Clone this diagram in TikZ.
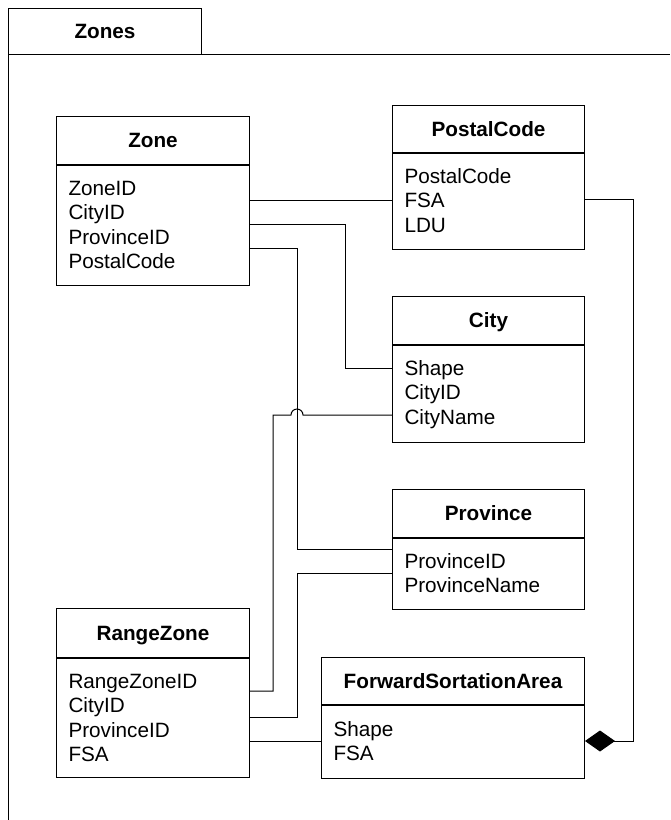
\documentclass[tikz,border=0pt]{standalone}
\usepackage{fontspec}
\setmainfont{Liberation Sans}
\usetikzlibrary{arrows.meta}
\begin{document}
\fontsize{20.7}{24}\selectfont
\begin{tikzpicture}[x=1pt,y=-1pt,
  line width=1pt,
  hdr/.style={draw, anchor=north west, inner sep=0pt, font=\bfseries,
    text height=14.7pt, text depth=0pt},
  ebody/.style={draw, anchor=north west, inner sep=0pt},
  row/.style={anchor=west, inner sep=0pt, text height=14.7pt, text depth=0pt},
  conn/.style={draw, line width=1pt},
]
\useasboundingbox (0,0) rectangle (670,820);

% package frame with its tab
\draw (8,820) -- (8,54) -- (670,54);
\node[hdr, minimum width=193pt, minimum height=46pt] (tab) at (8,8) {Zones};

% Zone
\node[hdr, minimum width=193pt, minimum height=48pt] (zoneH) at (56,116) {Zone};
\node[ebody, minimum width=193pt, minimum height=120pt] (zoneB) at (zoneH.south west) {};
\node[row] (zone1) at (68,188) {ZoneID};
\node[row] (zone2) at (68,212.5) {CityID};
\node[row] (zone3) at (68,237) {ProvinceID};
\node[row] (zone4) at (68,261.5) {PostalCode};

% PostalCode
\node[hdr, minimum width=192pt, minimum height=47pt] (pcH) at (392,105) {PostalCode};
\node[ebody, minimum width=192pt, minimum height=96pt] (pcB) at (pcH.south west) {};
\node[row] (pc1) at (404,176) {PostalCode};
\node[row] (pc2) at (404,200.5) {FSA};
\node[row] (pc3) at (404,225) {LDU};

% City
\node[hdr, minimum width=192pt, minimum height=48pt] (cityH) at (392,296) {City};
\node[ebody, minimum width=192pt, minimum height=97pt] (cityB) at (cityH.south west) {};
\node[row] (city1) at (404,368) {Shape};
\node[row] (city2) at (404,392.5) {CityID};
\node[row] (city3) at (404,417) {CityName};

% Province
\node[hdr, minimum width=192pt, minimum height=48pt] (provH) at (392,489) {Province};
\node[ebody, minimum width=192pt, minimum height=71pt] (provB) at (provH.south west) {};
\node[row] (prov1) at (404,561) {ProvinceID};
\node[row] (prov2) at (404,585.5) {ProvinceName};

% RangeZone
\node[hdr, minimum width=193pt, minimum height=49pt] (rzH) at (56,608) {RangeZone};
\node[ebody, minimum width=193pt, minimum height=119pt] (rzB) at (rzH.south west) {};
\node[row] (rz1) at (68,681) {RangeZoneID};
\node[row] (rz2) at (68,705.5) {CityID};
\node[row] (rz3) at (68,730) {ProvinceID};
\node[row] (rz4) at (68,754.5) {FSA};

% ForwardSortationArea
\node[hdr, minimum width=263pt, minimum height=47pt] (fsaH) at (321,657) {ForwardSortationArea};
\node[ebody, minimum width=263pt, minimum height=73pt] (fsaB) at (fsaH.south west) {};
\node[row] (fsa1) at (333,729) {Shape};
\node[row] (fsa2) at (333,753.5) {FSA};

% relationships
\draw[conn] (zoneB.east |- 0,200) -- (pcB.west |- 0,200);
\draw[conn] (zoneB.east |- 0,224) -- (345,224) -- (345,368) -- (cityB.west |- 0,368);
\draw[conn] (zoneB.east |- 0,248) -- (297,248) -- (297,549) -- (provB.west |- 0,549);
\draw[conn] (rzB.east |- 0,691) -- (273,691) -- (273,415) -- (291,415)
  arc[start angle=180, end angle=0, radius=6pt] -- (cityB.west |- 0,415);
\draw[conn] (rzB.east |- 0,717) -- (297,717) -- (297,573) -- (provB.west |- 0,573);
\draw[conn] (rzB.east |- 0,741) -- (fsaB.west |- 0,741);
\draw[conn, -{Diamond[length=30pt,width=21pt]}]
  (pcB.east |- 0,199) -- (633,199) -- (633,741) -- (fsaB.east |- 0,741);
\end{tikzpicture}
\end{document}
